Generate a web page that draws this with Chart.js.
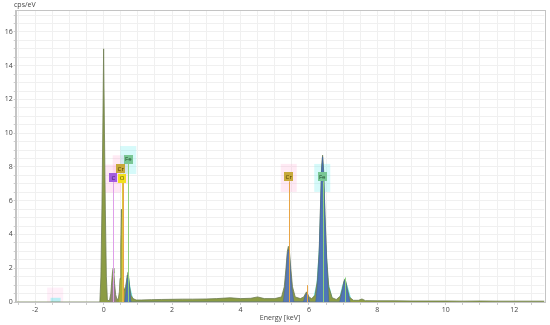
<!DOCTYPE html>
<html><head><meta charset="utf-8">
<script src="https://cdn.jsdelivr.net/npm/chart.js@4/dist/chart.umd.min.js"></script>
<style>html,body{margin:0;padding:0;background:#fff;}#c{display:block;}</style>
</head><body>
<canvas id="c" width="550" height="325"></canvas>
<script>
// ---- measured spectrum (energy in keV, intensity in cps/eV) ----
const spectrumE = [-2.62,-0.11,-0.08,-0.05,-0.025,0,0.025,0.05,0.08,0.11,0.17,0.21,0.24,0.26,0.28,0.30,0.32,0.35,0.39,0.43,0.46,0.48,0.50,0.52,0.54,0.56,0.58,0.61,0.64,0.67,0.69,0.71,0.73,0.76,0.8,0.86,0.95,1.1,1.4,1.7,2.0,2.3,2.6,3.0,3.3,3.7,4.0,4.3,4.5,4.7,5.0,5.2,5.28,5.33,5.37,5.40,5.43,5.47,5.52,5.6,5.75,5.85,5.9,5.93,5.96,6.0,6.08,6.18,6.25,6.3,6.34,6.37,6.40,6.43,6.47,6.52,6.58,6.68,6.8,6.92,6.98,7.02,7.05,7.08,7.12,7.18,7.3,7.45,7.55,7.65,8.0,8.5,9.0,9.5,10.0,10.5,11.0,11.5,12.0,12.5,12.9];
const spectrumY = [0,0,1.5,5.5,10,15.0,10,5.5,1.5,0.1,0.08,0.5,1.3,1.8,2.0,1.7,1.1,0.45,0.15,0.2,0.6,1.4,3.2,5.5,3.4,1.7,0.9,0.7,0.9,1.25,1.6,1.75,1.5,0.9,0.4,0.2,0.12,0.12,0.14,0.15,0.16,0.17,0.17,0.18,0.2,0.25,0.2,0.22,0.3,0.2,0.2,0.3,0.9,2.0,3.0,3.3,3.0,2.0,0.9,0.3,0.2,0.3,0.5,0.6,0.5,0.3,0.2,0.4,1.3,3.0,5.8,8.0,8.7,7.8,5.2,2.6,0.9,0.25,0.15,0.35,0.8,1.2,1.35,1.2,0.8,0.3,0.1,0.1,0.18,0.08,0.07,0.07,0.06,0.06,0.06,0.05,0.06,0.05,0.05,0.05,0.05];

// element fit envelopes
const feHaloE = [0.58,0.65,0.69,0.71,0.73,0.78,0.88,6.1,6.22,6.3,6.35,6.40,6.45,6.5,6.58,6.72,6.86,6.96,7.05,7.14,7.26];
const feHaloY = [0,1.0,1.6,1.85,1.6,0.9,0,0,1.1,3.4,6.8,8.75,6.8,3.4,1.1,0,0,0.9,1.4,0.9,0];
const feE = [0.62,0.67,0.69,0.71,0.73,0.76,0.8,6.2,6.25,6.3,6.34,6.37,6.40,6.43,6.47,6.52,6.58,6.9,6.98,7.02,7.05,7.08,7.12,7.2];
const feY = [0,0.9,1.4,1.6,1.4,0.8,0,0,1.0,2.8,5.6,7.8,8.6,7.6,5.0,2.4,0,0,0.7,1.1,1.3,1.1,0.7,0];
const crE = [5.25,5.3,5.34,5.37,5.40,5.43,5.46,5.5,5.56,5.84,5.89,5.93,5.97,6.02];
const crY = [0,0.8,1.9,2.8,3.1,2.8,1.9,0.8,0,0,0.35,0.5,0.35,0];
const cE = [0.19,0.22,0.25,0.27,0.28,0.30,0.32,0.35,0.38];
const cY = [0,0.4,1.2,1.75,1.95,1.65,1.05,0.4,0];
const oE = [0.45,0.48,0.50,0.52,0.54,0.56,0.59];
const oY = [0,1.3,3.1,5.4,3.3,1.6,0];

// element line markers
const markerEl = ['C','O','Cr','Fe','Cr','Cr','Fe','Fe'];
const markerE = [0.277,0.525,0.573,0.705,5.41,5.95,6.40,7.06];
const markerTop = [7.1,7.1,7.6,8.2,7.15,1.0,7.15,1.45];

// element labels
const labelText = ['C','O','Cr','Fe','Cr','Fe'];
const labelE = [0.284,0.54,0.50,0.72,5.41,6.39];
const labelLevel = [7.37,7.33,7.92,8.47,7.41,7.41];

// axis ticks
const xTickValues = [-2,0,2,4,6,8,10,12];
const yTickValues = [0,2,4,6,8,10,12,14,16];

const style = {
  C:  {box:'#a35ce0', text:'#3b1a66', line:'#de9fe9', halo:'rgba(255,150,215,0.22)'},
  O:  {box:'#f1e11f', text:'#5a5200', line:'#d7c83e', halo:null},
  Cr: {box:'#c7a93a', text:'#4a3a00', line:'#e8a445', halo:'rgba(255,160,205,0.22)'},
  Fe: {box:'#79c795', text:'#1f4a2c', line:'#8ed27a', halo:'rgba(90,235,235,0.25)'}
};

const pts = (xs, ys) => xs.map((x, i) => ({x: x, y: ys[i]}));

const deco = {
  id: 'deco',
  beforeDatasetsDraw(chart) {
    const {ctx, scales: {x, y}} = chart;
    ctx.save();
    // faint ghost highlight near -1.5 keV
    ctx.fillStyle = 'rgba(255,170,220,0.18)';
    ctx.fillRect(x.getPixelForValue(-1.65), y.getPixelForValue(0.85), 16, y.getPixelForValue(0) - y.getPixelForValue(0.85));
    ctx.fillStyle = 'rgba(60,235,235,0.35)';
    ctx.fillRect(x.getPixelForValue(-1.55), y.getPixelForValue(0.25), 10, y.getPixelForValue(0) - y.getPixelForValue(0.25));
    // label halos
    labelText.forEach((t, i) => {
      const s = style[t];
      if (!s.halo) return;
      const px = x.getPixelForValue(labelE[i]);
      const py = y.getPixelForValue(labelLevel[i]);
      ctx.fillStyle = s.halo;
      ctx.fillRect(px - 8, py - 13, 16, 28);
    });
    ctx.restore();
  },
  afterDatasetsDraw(chart) {
    const {ctx, chartArea: a, scales: {x, y}} = chart;
    ctx.save();
    // marker lines
    markerE.forEach((e, i) => {
      const px = Math.round(x.getPixelForValue(e)) + 0.5;
      ctx.strokeStyle = style[markerEl[i]].line;
      ctx.lineWidth = 1;
      ctx.beginPath();
      ctx.moveTo(px, y.getPixelForValue(markerTop[i]));
      ctx.lineTo(px, y.getPixelForValue(0));
      ctx.stroke();
    });
    // label boxes
    ctx.font = '6px "Open Sans", sans-serif';
    ctx.textAlign = 'center';
    ctx.textBaseline = 'middle';
    labelText.forEach((t, i) => {
      const s = style[t];
      const px = x.getPixelForValue(labelE[i]);
      const py = y.getPixelForValue(labelLevel[i]);
      const w = t.length > 1 ? 9 : 8;
      ctx.fillStyle = s.box;
      ctx.fillRect(Math.round(px - w / 2), Math.round(py - 4.5), w, 9);
      ctx.fillStyle = s.text;
      ctx.fillText(t, px, py + 0.5);
    });
    // frame
    ctx.strokeStyle = '#c4c4c4';
    ctx.lineWidth = 1;
    ctx.strokeRect(Math.round(a.left) + 0.5, Math.round(a.top) + 0.5, Math.round(a.right - a.left), Math.round(a.bottom - a.top));
    // axis texts
    ctx.fillStyle = '#444';
    ctx.font = '7px "Open Sans", sans-serif';
    ctx.textAlign = 'left';
    ctx.fillText('cps/eV', 14, 5);
    ctx.textAlign = 'center';
    ctx.fillText('Energy [keV]', (a.left + a.right) / 2, 317.5);
    ctx.restore();
  }
};

const halfSteps = (lo, hi) => { const out = []; for (let v = lo; v <= hi + 1e-9; v += 0.5) out.push({value: Math.round(v * 2) / 2}); return out; };

new Chart(document.getElementById('c'), {
  type: 'line',
  data: {
    datasets: [
      {data: pts(feHaloE, feHaloY), backgroundColor: 'rgba(70,228,228,0.75)', borderWidth: 0, fill: 'origin', order: 10},
      {data: pts(spectrumE, spectrumY), backgroundColor: '#8c9c44', borderColor: '#6f7d52', borderWidth: 0.8, fill: 'origin', order: 9},
      {data: pts(crE, crY), backgroundColor: '#5a79b3', borderColor: '#4a66a0', borderWidth: 0.6, fill: 'origin', order: 8},
      {data: pts(feE, feY), backgroundColor: '#4f76b6', borderColor: '#3f64a4', borderWidth: 0.6, fill: 'origin', order: 7},
      {data: pts(cE, cY), backgroundColor: 'rgba(150,100,190,0.45)', borderWidth: 0, fill: 'origin', order: 6},
      {data: pts(oE, oY), backgroundColor: 'rgba(230,210,40,0.35)', borderWidth: 0, fill: 'origin', order: 5}
    ]
  },
  options: {
    responsive: false,
    animation: false,
    devicePixelRatio: 1,
    parsing: false,
    elements: {point: {radius: 0}, line: {tension: 0}},
    layout: {padding: {top: 10, right: 5.7, left: 0, bottom: 0}},
    plugins: {legend: {display: false}, tooltip: {enabled: false}},
    scales: {
      x: {
        type: 'linear', min: -2.57, max: 12.88,
        afterBuildTicks: s => { s.ticks = halfSteps(-2.5, 12.5); },
        afterFit: s => { s.height = 23; },
        ticks: {autoSkip: false, maxRotation: 0, padding: 1, color: '#444', font: {family: 'Open Sans', size: 7},
          callback: v => xTickValues.includes(v) ? String(v) : ''},
        grid: {color: '#f0f0f0', tickLength: 3, tickColor: '#ccc'},
        border: {color: '#c4c4c4'}
      },
      y: {
        type: 'linear', min: 0, max: 17.3,
        afterBuildTicks: s => { s.ticks = halfSteps(0, 17); },
        afterFit: s => { s.width = 15.7; },
        ticks: {autoSkip: false, padding: 1, color: '#444', font: {family: 'Open Sans', size: 7},
          callback: v => yTickValues.includes(v) ? String(v) : ''},
        grid: {color: '#f0f0f0', tickLength: 2, tickColor: '#ccc'},
        border: {color: '#c4c4c4'}
      }
    }
  },
  plugins: [deco]
});
</script>
</body></html>
